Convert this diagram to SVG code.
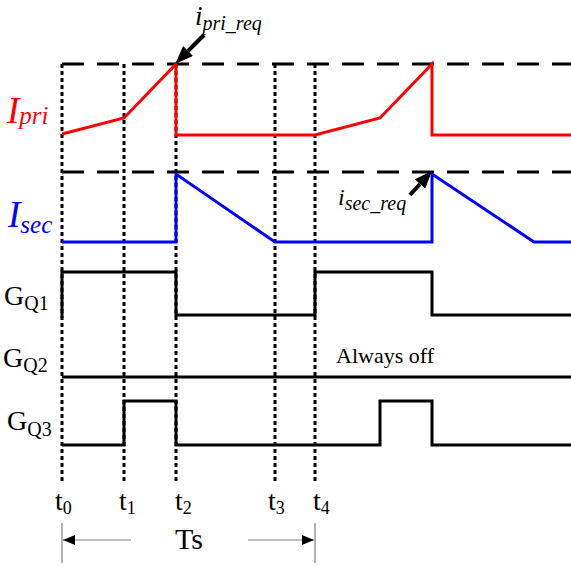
<svg xmlns="http://www.w3.org/2000/svg" width="571" height="567" viewBox="0 0 571 567">
<style>
.dot{stroke:#000;stroke-width:3;stroke-dasharray:4 3;fill:none}
.dash{stroke:#000;stroke-width:3;stroke-dasharray:22 13;fill:none}
.sig{fill:none;stroke-width:3;stroke-linejoin:miter}
.red{stroke:#ff0000}
.blue{stroke:#0000ff}
.blk{stroke:#000}
.t{font-family:"Liberation Serif","Times New Roman",serif;fill:#000}
.it{font-style:italic}
.tr{fill:#ff0000}
.tb{fill:#0000ff}
.thin{stroke:#808080;stroke-width:1.2;fill:none}
</style>
<defs>
<marker id="big" markerUnits="userSpaceOnUse" markerWidth="18" markerHeight="14" refX="0" refY="7" orient="auto" viewBox="0 0 18 14">
<path d="M0,0 L18,7 L0,14 z" fill="#000"/>
</marker>
<marker id="small" markerUnits="userSpaceOnUse" markerWidth="12" markerHeight="10" refX="12" refY="5" orient="auto" viewBox="0 0 12 10">
<path d="M0,0 L12,5 L0,10 z" fill="#000"/>
</marker>
</defs>
<rect width="571" height="567" fill="#fff"/>
<g id="grid">
<line class="dot" x1="62" y1="64" x2="62" y2="482"/>
<line class="dot" x1="124" y1="64" x2="124" y2="482"/>
<line class="dot" x1="176" y1="64" x2="176" y2="482"/>
<line class="dot" x1="275" y1="64" x2="275" y2="482"/>
<line class="dot" x1="315" y1="64" x2="315" y2="482"/>
<line class="dash" x1="62" y1="64" x2="571" y2="64"/>
<line class="dash" x1="62" y1="172" x2="571" y2="172"/>
</g>
<g id="ipri">
<polyline class="sig red" points="62,134 124,118 176,64 176,135 315,135 380,118 432,64 432,135 571,135"/>
<text class="t it tr" x="7" y="123" font-size="37">I<tspan font-size="25" dy="1">pri</tspan></text>
</g>
<g id="isec">
<polyline class="sig blue" points="62,242 176,242 176,174 275,242 432,242 432,174 534,242 571,242"/>
<text class="t it tb" x="8" y="227" font-size="37">I<tspan font-size="25" dy="6">sec</tspan></text>
</g>
<g id="gq1">
<polyline class="sig blk" points="62,318 62,272 176,272 176,315 315,315 315,272 432,272 432,315 571,315"/>
<text class="t" x="4" y="305" font-size="28">G<tspan font-size="20" dy="5">Q1</tspan></text>
</g>
<g id="gq2">
<line class="sig blk" x1="62" y1="377" x2="571" y2="377"/>
<text class="t" x="3" y="367" font-size="28">G<tspan font-size="20" dy="5">Q2</tspan></text>
<text class="t" x="336" y="363" font-size="22">Always off</text>
</g>
<g id="gq3">
<polyline class="sig blk" points="62,445 124,445 124,401 176,401 176,445 380,445 380,401 432,401 432,445 571,445"/>
<text class="t" x="7" y="430" font-size="28">G<tspan font-size="20" dy="6">Q3</tspan></text>
</g>
<g id="labels">
<text class="t it" x="195" y="25" font-size="27">i<tspan font-size="20" dy="5">pri_req</tspan></text>
<text class="t it" x="338" y="205" font-size="24">i<tspan font-size="20" dy="5">sec_req</tspan></text>
</g>
<g id="connectors">
<line x1="204" y1="35" x2="188" y2="51" stroke="#000" stroke-width="4" marker-end="url(#big)"/>
<line x1="410" y1="195" x2="420" y2="184" stroke="#000" stroke-width="4" marker-end="url(#big)"/>
<line class="thin" x1="62" y1="523" x2="62" y2="563"/>
<line class="thin" x1="315" y1="523" x2="315" y2="563"/>
<line class="thin" x1="131" y1="540" x2="63" y2="540" marker-end="url(#small)"/>
<line class="thin" x1="248" y1="540" x2="314" y2="540" marker-end="url(#small)"/>
</g>
<g id="times">
<text class="t" x="55" y="510" font-size="28">t<tspan font-size="18" dy="4">0</tspan></text>
<text class="t" x="119" y="510" font-size="28">t<tspan font-size="18" dy="4">1</tspan></text>
<text class="t" x="175" y="510" font-size="28">t<tspan font-size="18" dy="4">2</tspan></text>
<text class="t" x="268" y="510" font-size="28">t<tspan font-size="18" dy="4">3</tspan></text>
<text class="t" x="313" y="510" font-size="28">t<tspan font-size="18" dy="4">4</tspan></text>
<text class="t" x="175" y="549" font-size="30">Ts</text>
</g>
</svg>
